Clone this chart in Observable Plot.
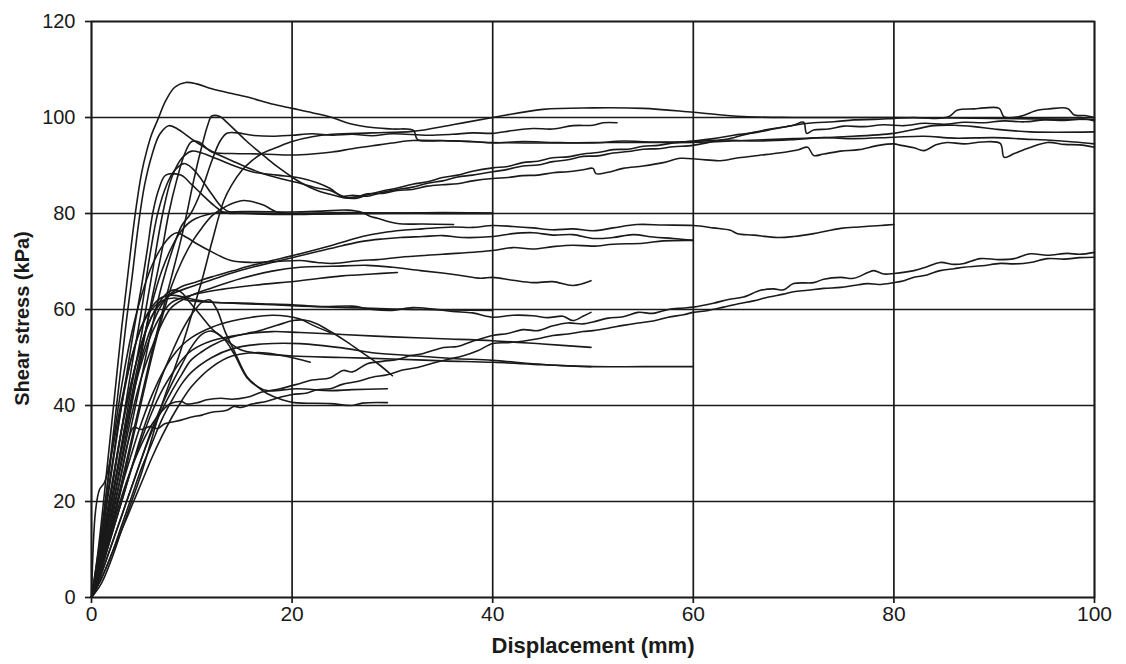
<!DOCTYPE html>
<html><head><meta charset="utf-8">
<script src="https://cdn.jsdelivr.net/npm/d3@7"></script>
<script src="https://cdn.jsdelivr.net/npm/@observablehq/plot@0.6"></script>
<style>body{margin:0;background:#fff}</style>
</head><body><div id="chart"></div>
<script>
const xTicks = [0, 20, 40, 60, 80, 100];
const yTicks = [0, 20, 40, 60, 80, 100, 120];
const xLabel = "Displacement (mm)";
const yLabel = "Shear stress (kPa)";

// ---- high group (peaks ~93-107, long tails near 95-100) ----
const a1 = [[0,0],[0.5,7],[1,16],[1.5,26],[2,36],[2.5,46],[3,56],[3.5,65],[4,74],[4.5,82],[5,88.5],[5.5,93],[6,96.5],[6.6,99.5],[7.4,103.5],[8.3,106.3],[9.4,107.3],[10.5,107],[12,106],[14,105],[16,104],[18,102.8],[20,101.9],[22,101],[24,100],[25.8,98.7],[28,97.9],[30,97.6],[32.1,97.3],[32.5,95.4],[35,95.2],[38,95],[40,94.7],[43,95],[46,94.8],[50,94.7],[53,95.1],[56,94.9],[60,95],[63,95.3],[66,95.1],[70,95.4],[73,95.8],[76,95.6],[80,95.9],[83,96.1],[86,95.7],[90,95.8],[93,95.5],[96,95.2],[98,94.9],[100,94.5]];
const a2 = [[0,0],[1,3],[2,8],[3,14],[4,20],[5,26],[6,33],[7,40],[8,46],[8.9,51.5],[10,59],[11,66],[12,74],[13.2,82.7],[14,86],[15,89],[16,91],[17,92.5],[18.5,93.8],[20,95],[22,96],[24,96.5],[28,96.8],[32,97.1],[36,98.5],[40,100],[45,101.7],[50,102],[55,101.9],[60,101.1],[65,100.2],[70,100],[80,100],[90,99.8],[100,99.6]];
const a3 = [[0,0],[0.5,3],[1,7],[2,15],[3,24],[4,33],[5,42],[6,51],[7,59],[8,67],[8.9,74.4],[9.5,80],[10.2,87],[11,94],[11.6,98.5],[12,100.3],[12.8,100.2],[13.5,99],[14.5,97],[15.5,95],[16.5,93.2],[17.5,91.5],[18.5,89.8],[19.5,88.3],[20.8,86.5],[22.5,84.8],[23.8,84],[25.1,83.3],[26.5,83.2],[27.5,83.9],[29,84.7],[30.5,85.3],[32,86.1],[33.5,86.6],[35,87.5],[36.5,88],[38,88.8],[40,89.5],[41.5,89.8],[43,90.6],[44.5,90.9],[46,91.6],[47.5,91.8],[49,92.4],[50.5,92.7],[52,93.3],[53.5,93.4],[55,94],[56.5,94.2],[58,94.7],[60,95.1],[62,95.6],[64,96.3],[66,96.8],[68,97.6],[70,98.4],[72,98.9],[74,99.1],[76,99.5],[78,99.6],[80,99.8],[82,100],[84,99.8],[85.5,100.2],[86.3,101.5],[88,101.8],[89,102],[90.5,101.9],[91,100.1],[92.5,100.2],[94.3,101.5],[95.5,101.8],[97.3,101.9],[98,100.5],[99,100.4],[100,100]];
const a4 = [[0,0],[0.5,5],[1,13],[1.5,22],[2,31],[2.5,40],[3,49],[3.5,58],[4,66],[4.7,78],[5.3,86],[6,92],[6.8,96.5],[7.7,98.3],[8.5,97.7],[10.2,95.2],[12.2,92.7],[14,91],[15.5,89.6],[17,88.4],[18.8,87.3],[20.8,86.3],[22.5,85.3],[23.8,84.8],[25.1,83.6],[26,83.8],[27.5,83.6],[29,84.4],[30.5,85],[32,85.5],[33.5,86.3],[35,86.8],[36.5,87.6],[38,88],[40,88.7],[41.5,89.2],[43,89.9],[44.5,90.1],[46,90.8],[47.5,91.2],[49,91.9],[50.5,92],[52,92.6],[53.5,92.9],[55,93.4],[56.5,93.5],[58,93.9],[60,94.2],[62,95],[64,95.8],[66,96.9],[68,97.7],[70,98.4],[71,99],[71.3,96.7],[72,97.4],[73.5,97.6],[75,98.2],[77,98.1],[79,98.5],[81,98.3],[83,98.8],[85,98.6],[87,99],[89,98.9],[91,99.3],[93,99.1],[95,99.5],[97,99.4],[99,99.7],[100,99.3]];
const a5 = [[0,0],[0.5,4],[1,9],[2,20],[3,32],[4,44],[5,55],[6,67],[7.1,80],[8,87.5],[9,91.5],[10,93],[11,92.6],[12.5,91.4],[14,90.1],[16.2,88.6],[18.5,88],[20.8,87.4],[22.5,86.4],[23.8,85.2],[25.1,83.4],[26.5,83.5],[27.5,84.1],[29,84.2],[30.5,84.8],[32,85],[33.5,85.7],[35,86],[36.5,86.2],[38,86.8],[40,87.3],[41.5,87.5],[43,87.9],[44.5,88],[46,88.5],[47.5,88.7],[49,89.1],[50,89.4],[50.3,88.3],[51.5,88.6],[53,89.4],[55,89.9],[57,90.6],[58.7,91.5],[60.5,91.3],[62.7,91],[64.5,91.6],[66.5,92.1],[68.5,92.6],[70.5,93.3],[71.4,93.8],[72,92.1],[73,92.4],[74.7,93],[76.5,93.3],[78.5,94.2],[80,94.5],[80.7,94.2],[82,93.7],[83,93.1],[84.2,94.3],[85.3,94.8],[87,94.5],[88.8,94.9],[90.6,94.6],[91,91.7],[92,92.5],[93.5,93.7],[95.3,94.8],[97,94.4],[98.5,94.3],[100,93.8]];
const a6 = [[0,0],[0.5,3],[1,8],[2,18],[3,29],[4,40],[5,51],[6,62],[7,72],[7.7,80],[8.5,87],[9.3,92.5],[10,95],[10.8,94.8],[12,92.8],[14,92.5],[17,92.4],[20,92.2],[22,92.4],[24,92.8],[26,93.5],[28,94.1],[30,94.7],[32,95.2],[36,95.1],[40,94.8],[45,94.7],[50,94.8],[55,94.8],[60,94.8],[65,95.2],[70,95.6],[75,96],[80,96.7],[82,97.5],[84,98.3],[86,98.4],[88,98.1],[90,97.6],[93.6,97],[100,97]];
const a7 = [[0,0],[0.5,3],[1,7],[2,16],[3,26],[4,36],[5,46],[6,56],[7,65],[8,72],[9,77.5],[9.9,80],[11,85],[12,91],[12.8,95],[13.5,96.7],[14.5,96.8],[16,96.3],[18,96.1],[20,96.3],[22,96.6],[24,96.3],[26,96.5],[28,96.2],[30,96.6],[33.5,96.3],[36,96.5],[38,96.8],[40,96.7],[42,97.3],[44,97.7],[46,97.6],[48,98.3],[50,98.4],[51,98.9],[52.4,98.9]];

// ---- group along 80 kPa ----
const b1 = [[0,0],[0.5,5],[1,12],[1.5,19],[2,26],[3,40],[4,53],[5,65],[5.6,73],[6.1,80],[6.7,85],[7.4,88],[8.9,88],[10,86],[11,84],[12.2,81.7],[13.2,80.2],[15,80],[20,79.8],[25,80],[30,80.1],[35,80],[40,80]];
const b2 = [[0,0],[0.5,4],[1,10],[2,22],[3,35],[4,48],[5,60],[5.8,71],[6.6,80],[7.5,86],[8.3,89],[9.2,90.4],[10,89.5],[11,87],[12,84],[13,81.3],[13.8,80.3],[16,80.1],[20,80],[25,80.2],[30,80.1],[35,80.2],[40,80.1]];
const b3 = [[0,0],[0.5,3],[1,6],[2,14],[3,23],[4,32],[5,41],[6,50],[7,58],[8,65],[9,70],[10,74],[11,77],[12,79.5],[13,81],[13.9,82],[15.2,82.7],[16.5,82.2],[17.2,81.7],[18.5,80.3],[20,80],[30,80],[40,80]];
const b4 = [[0,0],[0.5,4],[1,9],[2,20],[3,31],[4,42],[5,52],[6,61],[7,68],[8,73],[9,76.5],[10,78.5],[12,80],[15,80.4],[20,80.3],[23,80.5],[25.5,80.7],[27,80.2],[27.8,79.4],[28.5,79],[30.5,77.9],[33,77.8],[36.1,77.7]];

// ---- group 65-78 kPa ----
const c1 = [[0,0],[0.5,4],[1,9],[2,20],[3,31],[4,41],[5,50],[6,56.5],[7,61],[8,63.5],[9,64.8],[10.5,65.8],[12,66.8],[14,68],[16,69.2],[18,70.2],[20.8,71.6],[23,72.8],[25,74],[27,75.2],[29,76],[31,76.5],[33,76.8],[36,77.2],[38,77.1],[40,77.5],[42,77.3],[44,77],[46,76.6],[48,76.8],[50,76.4],[52,77],[54.4,77.7],[57,77.6],[60,77.5],[62,77],[63.7,76.5],[64.4,75.8],[66,75.5],[68.4,75],[70,75.2],[72,75.8],[74.7,76.9],[76.5,77.2],[78.7,77.5],[80,77.7]];
const c2 = [[0,0],[0.5,5],[1,11],[2,23],[3,35],[4,45],[5,53],[6,58.5],[7,61.5],[8,63.2],[10,64.8],[12,66.2],[14,67.6],[16,68.8],[18,69.8],[20.8,71.2],[23,72.3],[25,73.3],[27,74.2],[29,74.7],[30.8,75],[33,75.2],[35,75.4],[37,75],[40,75.2],[42,75.8],[44,76],[46,75.5],[48,75.6],[50,74.8],[52,75],[54,75.6],[56,75.1],[58,74.8],[60,74.4]];
const c3 = [[0,0],[0.5,7],[1,14],[2,30],[3,44],[4,55],[5,63],[6,69],[7,73],[8,75.5],[8.5,76],[9.5,75],[10.5,73.7],[12,72],[13.9,70.2],[16,69.8],[18.5,70],[20.8,70.2],[22.5,69.8],[24.1,69.6],[26.8,70.2],[28.5,70.4],[30.8,70.9],[35,71.5],[40,72.3],[42,72.9],[44,72.6],[46,73.1],[48,73.4],[50,73.2],[52,73.6],[55,73.8],[57,74.3],[60,74.4]];
const c4 = [[0,0],[0.5,4],[1,8],[2,18],[3,28],[4,38],[5,46],[6,52],[7,57],[8,60.5],[10,63],[12,64.5],[15,66.5],[18,68],[20.8,68.8],[24,69],[27.5,69.2],[30,68.8],[32.8,68.1],[35,67.6],[36.5,67.2],[38.8,66.5],[40,66.7],[42,66.1],[44,65.6],[46,65.8],[48,65],[49.8,66]];
const c5 = [[0,0],[0.5,4],[1,9],[2,20],[3,31],[4,41],[5,49],[6,55],[7,59],[8,61.5],[10,63],[13,64.2],[16,65],[20.8,66],[25,67],[28,67.4],[30.5,67.7]];

// ---- group along 60 kPa ----
const d1 = [[0,0],[0.4,18],[0.8,22.5],[1.3,24],[2,30],[3,41],[4,50],[5,56.5],[6,60.5],[7,62.5],[8,63],[10,62.2],[12,61.5],[14,61.4],[17,61.2],[20,61],[23,60.6],[26,60.7],[28,60],[30,59.8],[32,60.4],[34,60.1],[36,59.6],[38,59.3],[40,58.4],[42,58.8],[44,58.7],[45.5,58.3],[47,58.6],[48,57.7],[49,58.6],[49.8,59.4]];
const d2 = [[0,0],[0.5,6],[1,13],[2,27],[3,40],[4,50],[5,56.5],[6,60],[7,61.8],[8.2,62.4],[10,61.8],[12,61.5],[15,61.2],[18,61],[21,60.7],[24,60.5],[27,60.3],[30,60.1],[33,60],[36,59.9],[40,59.8]];

// ---- group falling back to 40-48 kPa ----
const e1 = [[0,0],[0.5,3],[1,6],[2,13],[3,20],[4,27],[5,34],[6,40],[7,46],[8,51],[9,55.5],[10,59],[11,61.5],[11.8,62],[12.5,60],[13.3,55.5],[14.2,51.5],[15.5,46],[16.5,44],[17.5,42.5],[19,41.2],[20.2,40.6],[23.8,40.4],[26,40],[27,40.5],[29.5,40.6]];
const e2 = [[0,0],[0.5,2],[1,5],[2,11],[3,17],[4,23],[5,29],[6,35],[7,40],[8,44.5],[9,48.5],[9.9,52],[11,54.8],[12,55.5],[13.2,53.9],[14.2,50.8],[15.5,45.8],[16.5,44],[17.5,43.1],[20.5,43.5],[23.8,43.1],[26,43.3],[29.5,43.5]];
const g1 = [[0,0],[0.5,2],[1,5],[2,11],[3,17],[4,23],[5,29],[6,34.5],[7,39],[8,43],[9,46.5],[9.9,49.4],[11,51.2],[12,52.5],[13.9,54.2],[15.5,55],[16.8,55.6],[18.5,56.7],[20.1,57.7],[21.2,57.8],[22.5,57],[24,55.2],[25.5,53.2],[27,51],[28.5,48.8],[30,46.2]];
const g2 = [[0,0],[0.5,3],[1,7],[2,15],[3,23],[4,30],[5,36.5],[6,42],[7,46.5],[8,50],[9,52.5],[10,54.2],[12,56.3],[14,57.6],[16,58.4],[18,58.8],[19.5,58.6],[20.8,58],[22,56.8],[23.8,55.2]];
const g3 = [[0,0],[0.5,3],[1,6],[2,13],[3,20],[4,27],[5,33],[6,38.5],[7,43],[8,46.5],[9,49.5],[10,51.5],[12,53.5],[15,54.8],[18,55.4],[20.8,55.2],[25,54.8],[30,54.3],[35,53.9],[40,53.5],[45,52.8],[49.8,52.1]];
const g4 = [[0,0],[0.5,2],[1,4],[2,9],[3,15],[4,21],[5,27],[6,32],[7,37],[8,41],[9,44.5],[10,47],[12,50],[14,51.8],[17,52.8],[20.8,52.9],[25,52],[28,51],[31.8,50.4],[36,49.8],[40,49.4],[44,48.7],[47,48.3],[49.8,48.1]];
const g5 = [[0,0],[0.5,5],[1,11],[2,23],[3,35],[4,45],[5,53],[6,58.5],[7,62.2],[8,64],[8.8,63.8],[10,61],[11,58.5],[12,56],[13.5,53.5],[15,51.5],[17,50.8],[20,50.3],[25,50],[30,49.7],[35,49.3],[40,49],[45,48.5],[50,48.1],[55,48.1],[60,48.1]];
const g6 = [[0,0],[0.5,2],[1,4],[2,9],[3,14],[4,19],[5,24],[6,29],[7,33.5],[8,37.5],[9,41],[10,44],[12,48],[14,50.3],[17,51],[19.5,50.2],[21.8,49]];

// ---- slowly rising noisy curves ----
const f1 = [[0,0],[1,7],[2,14],[3,21],[4,27],[5,32],[6,36],[7,38.8],[7.9,40.4],[9,40.8],[9.5,40.3],[10.6,40.6],[11.5,41.2],[12.9,41.5],[14,41.3],[15.5,41.7],[17,42.8],[18.8,43.5],[20.8,44.6],[22,45.3],[23.8,45.8],[25.1,47.3],[26,47],[27.5,48.7],[29,49.2],[30.5,49.6],[31.8,50.4],[33,50.8],[35.1,52.1],[36.5,52.3],[38,53.4],[40,54.6],[41.5,55],[43,55.8],[44.5,55.6],[46,56.6],[47.5,57.2],[49,57],[50,57.4],[51.5,58.2],[53,58.5],[54.5,59.4],[56,59.2],[57.5,60],[59,60.3],[60,60.5],[62,61.3],[63.5,62.1],[65,62.6],[66.7,64],[68,64.3],[69,64.1],[70,65.4],[72,65.6],[73,66.3],[74.7,66.7],[76,66.5],[77.4,67.7],[78,68.1],[79,67.4],[80,67.5],[82,68.1],[83.3,68.9],[84.6,69.8],[86,69.4],[87,69.6],[88.6,70.6],[90.5,70.4],[92,70.6],[93.6,71.6],[95.3,71.3],[97.3,71.7],[98.5,71.5],[100,71.9]];
const f2 = [[0,0],[1,8],[2,17],[3,26],[3.6,32],[4.2,35.4],[5,35],[5.8,35.6],[6.6,35.2],[7.3,36.2],[7.9,36.5],[9,37],[10,37.6],[11,38],[12,38.6],[13.5,39],[14.2,39.8],[14.9,39.6],[16,40.3],[17.5,40.9],[18.8,41.7],[20,42.3],[21.5,42.6],[22.5,43.3],[23.8,43.5],[25,44.4],[26.5,45],[28,45.9],[29.5,46.4],[31,47.4],[32.5,47.9],[34,48.8],[35.5,49.6],[37,50.3],[38.5,51.4],[40,52.9],[41.5,53.1],[43,53.4],[44.5,53.9],[46,54.6],[47.5,54.9],[49,55.4],[50,55.6],[51.5,56.1],[53,56.7],[54.5,57.2],[56,57.6],[57.5,58.4],[59,58.9],[60,59.4],[61.5,59.8],[63,60.5],[64.5,61.2],[66,61.8],[67.5,62.6],[69,63.2],[70,63.7],[71.4,64],[73,64.4],[74.7,64.6],[76,65],[77.4,65.4],[78.5,65.2],[80,65.6],[81,66],[82,66.7],[83.3,67.2],[84.6,68.1],[86,68.5],[87,68.8],[88.8,69.1],[90.6,69.6],[92,69.5],[93.6,69.8],[95.3,70.6],[97,70.5],[98.5,70.8],[100,70.9]];

const curves = [a1, a2, a3, a4, a5, a6, a7, b1, b2, b3, b4, c1, c2, c3, c4, c5, d1, d2, e1, e2, g1, g2, g3, g4, g5, g6, f1, f2];
const rows = curves.flatMap((pts, i) => pts.map(([x, y]) => ({id: i, x, y})));

const ink = "#1a1a1a";
const chart = Plot.plot({
  width: 1126,
  height: 664,
  marginLeft: 91,
  marginRight: 32,
  marginTop: 21,
  marginBottom: 67,
  x: {domain: [0, 100]},
  y: {domain: [0, 120]},
  style: {fontFamily: "'Liberation Sans', Arial, sans-serif", fontSize: "20px", color: ink, background: "#fff"},
  marks: [
    Plot.gridX(xTicks, {stroke: ink, strokeOpacity: 1, strokeWidth: 1.7}),
    Plot.gridY(yTicks, {stroke: ink, strokeOpacity: 1, strokeWidth: 1.7}),
    Plot.line(rows, {x: "x", y: "y", z: "id", stroke: ink, strokeWidth: 1.6, curve: "catmull-rom"}),
    Plot.frame({stroke: ink, strokeWidth: 1.7}),
    Plot.axisX(xTicks, {tickSize: 6, tickPadding: 3, label: null, fontSize: 21, strokeWidth: 1.7}),
    Plot.axisY(yTicks, {tickSize: 6, tickPadding: 10, label: null, fontSize: 20, strokeWidth: 1.7}),
    Plot.text([xLabel], {frameAnchor: "bottom", dy: 48, lineAnchor: "middle", text: d => d, fontWeight: "bold", fontSize: 22, fill: ink}),
    Plot.text([yLabel], {frameAnchor: "left", dx: -69, dy: 9, rotate: -90, textAnchor: "middle", lineAnchor: "middle", text: d => d, fontWeight: "bold", fontSize: 20, fill: ink})
  ]
});
document.getElementById("chart").append(chart);
</script>
</body></html>
